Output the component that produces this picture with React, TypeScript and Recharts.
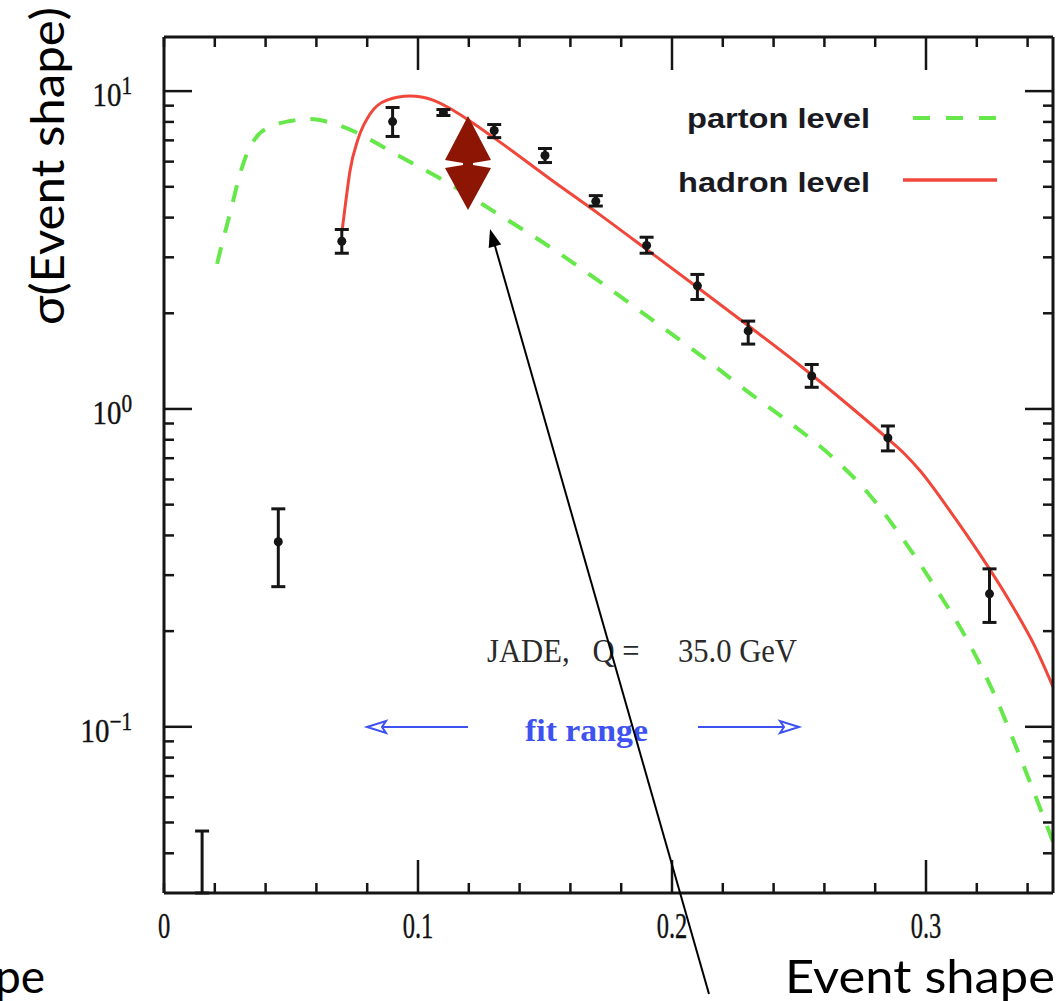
import React from 'react';
import { ComposedChart, Line, Scatter, XAxis, YAxis, ErrorBar } from 'recharts';

const W = 1061;
const H = 1001;
// plot area: x 164..1053, y 37..893 (each axis takes 1px)
const MARGIN = { top: 36, right: 7, bottom: 107, left: 163 };

const X_DOMAIN: [number, number] = [0, 0.35];
const Y_DOMAIN: [number, number] = [0.03, 14.8];

// axis ticks
const xTicks = [0, 0.02, 0.04, 0.06, 0.08, 0.1, 0.12, 0.14, 0.16, 0.18, 0.2, 0.22, 0.24, 0.26, 0.28, 0.3, 0.32, 0.34];
const xMajorTicks = [0.1, 0.2, 0.3];
const xLabelTicks = [0, 0.1, 0.2, 0.3];
const xLabels = ['0', '0.1', '0.2', '0.3'];

const yTicks = [
  0.04, 0.05, 0.06, 0.07, 0.08, 0.09,
  0.1, 0.2, 0.3, 0.4, 0.5, 0.6, 0.7, 0.8, 0.9,
  1, 2, 3, 4, 5, 6, 7, 8, 9,
  10,
];
const yMajorTicks = [0.1, 1, 10];
const yExpLabels = ['\u22121', '0', '1'];

// data (JADE, Q = 35 GeV)
const dataX = [0.015, 0.045, 0.07, 0.09, 0.11, 0.13, 0.15, 0.17, 0.19, 0.21, 0.23, 0.255, 0.285, 0.325];
const dataY = [0.03, 0.382, 3.37, 8.02, 8.56, 7.52, 6.27, 4.5, 3.27, 2.44, 1.76, 1.27, 0.811, 0.262];
const dataLow = [0.03, 0.276, 3.09, 7.2, 8.38, 7.14, 5.96, 4.35, 3.09, 2.21, 1.6, 1.17, 0.738, 0.213];
const dataHigh = [0.047, 0.485, 3.67, 8.88, 8.75, 7.85, 6.6, 4.69, 3.47, 2.65, 1.89, 1.38, 0.884, 0.314];

// hadron level curve
const hadronX = [0.0701, 0.0717, 0.0732, 0.0764, 0.0811, 0.0878, 0.0969, 0.1059, 0.1138, 0.1217, 0.1323, 0.152, 0.1717, 0.1913, 0.211, 0.2307, 0.2504, 0.27, 0.285, 0.2917, 0.2976, 0.3094, 0.3213, 0.3331, 0.343, 0.35];
const hadronY = [3.63, 4.58, 5.6, 7.07, 8.47, 9.37, 9.65, 9.37, 8.71, 7.93, 6.91, 5.29, 4.08, 3.12, 2.38, 1.81, 1.37, 1.02, 0.805, 0.72, 0.64, 0.478, 0.348, 0.247, 0.178, 0.1336];

// parton level curve
const partonX = [0.0209, 0.0228, 0.0248, 0.0272, 0.0299, 0.0331, 0.037, 0.0425, 0.0496, 0.0575, 0.0673, 0.0772, 0.087, 0.0969, 0.1126, 0.1295, 0.152, 0.1717, 0.1913, 0.211, 0.2307, 0.2465, 0.2622, 0.2768, 0.2917, 0.3055, 0.3173, 0.3272, 0.337, 0.35];
const partonY = [2.86, 3.3, 3.79, 4.51, 5.48, 6.48, 7.27, 7.76, 8.05, 8.17, 7.88, 7.32, 6.62, 5.98, 5.1, 4.2, 3.23, 2.51, 1.93, 1.48, 1.12, 0.904, 0.717, 0.548, 0.382, 0.26, 0.181, 0.125, 0.0805, 0.0435];

const RED = '#f0473a';
const GREEN = '#66e84a';
const BLUE = '#3e52f2';
const INK = '#151515';
const SERIF = '"Liberation Serif", "DejaVu Serif", serif';
const SANS = '"Liberation Sans", Arial, sans-serif';
const GILL = 'Lato, "Open Sans", sans-serif';

const points = dataX.map((x, i) => ({
  x,
  y: dataY[i],
  err: [dataY[i] - dataLow[i], dataHigh[i] - dataY[i]],
}));
const hadron = hadronX.map((x, i) => ({ x, y: hadronY[i] }));
const parton = partonX.map((x, i) => ({ x, y: partonY[i] }));

const MAJOR_LEN = 28;
const MINOR_LEN = 10;

const BottomTick = (props: any) => {
  const { x, y, payload } = props;
  const v = payload.value;
  const major = xMajorTicks.includes(v);
  const li = xLabelTicks.indexOf(v);
  return (
    <g>
      <line x1={x} y1={y} x2={x} y2={y - (major ? 33 : MINOR_LEN)} stroke={INK} strokeWidth={2.5} />
      {li >= 0 && (
        <text
          x={0}
          y={0}
          transform={`translate(${x},${y + 45}) scale(0.7,1)`}
          textAnchor="middle"
          fontFamily={SERIF}
          fontSize={35}
          fill="#111"
          stroke="#111"
          strokeWidth={0.4}
        >
          {xLabels[li]}
        </text>
      )}
    </g>
  );
};

const TopTick = (props: any) => {
  const { x, y, payload } = props;
  const major = xMajorTicks.includes(payload.value);
  return <line x1={x} y1={y} x2={x} y2={y + (major ? 33 : MINOR_LEN)} stroke={INK} strokeWidth={2.5} />;
};

const LeftTick = (props: any) => {
  const { x, y, payload } = props;
  const idx = yMajorTicks.indexOf(payload.value);
  return (
    <g>
      <line x1={x} y1={y} x2={x + (idx >= 0 ? MAJOR_LEN : MINOR_LEN)} y2={y} stroke={INK} strokeWidth={2.5} />
      {idx >= 0 && (
        <text
          x={0}
          y={0}
          transform={`translate(${x - 32},${y + 15}) scale(0.85,1)`}
          textAnchor="end"
          fontFamily={SERIF}
          fontSize={34}
          fill="#111"
          stroke="#111"
          strokeWidth={0.4}
        >
          10
          <tspan dy={-12} fontSize={25}>
            {yExpLabels[idx]}
          </tspan>
        </text>
      )}
    </g>
  );
};

const RightTick = (props: any) => {
  const { x, y, payload } = props;
  const major = yMajorTicks.includes(payload.value);
  return <line x1={x} y1={y} x2={x - (major ? MAJOR_LEN : MINOR_LEN)} y2={y} stroke={INK} strokeWidth={2.5} />;
};

const Dot = (props: any) => {
  const { cx, cy, payload } = props;
  if (!payload || payload.y <= Y_DOMAIN[0]) return <g />;
  return <circle cx={cx} cy={cy} r={4.5} fill={INK} />;
};

const axisLine = { stroke: INK, strokeWidth: 3 };

function arrowHead(tipX: number, tipY: number, fromX: number, fromY: number, len: number, half: number) {
  const dx = fromX - tipX;
  const dy = fromY - tipY;
  const d = Math.hypot(dx, dy);
  const ux = dx / d;
  const uy = dy / d;
  const bx = tipX + ux * len;
  const by = tipY + uy * len;
  return `${tipX},${tipY} ${bx - uy * half},${by + ux * half} ${bx + uy * half},${by - ux * half}`;
}

const Overlay = () => {
  const lineTip = { x: 490, y: 229 };
  const lineEnd = { x: 709, y: 994 };
  return (
    <svg
      width={W}
      height={H}
      style={{ position: 'absolute', left: 0, top: 0, pointerEvents: 'none', overflow: 'hidden' }}
    >
      {/* legend */}
      <text x={870} y={128} textAnchor="end" fontFamily={SANS} fontWeight="bold" fontSize={27} fill="#1a1a22" textLength={183} lengthAdjust="spacingAndGlyphs">
        parton level
      </text>
      <line x1={913} y1={118} x2={997} y2={118} stroke={GREEN} strokeWidth={4} strokeDasharray="17 16" />
      <text x={870} y={192} textAnchor="end" fontFamily={SANS} fontWeight="bold" fontSize={27} fill="#1a1a22" textLength={192} lengthAdjust="spacingAndGlyphs">
        hadron level
      </text>
      <line x1={903} y1={180} x2={997} y2={180} stroke={RED} strokeWidth={3.5} />

      {/* JADE label */}
      <text x={487} y={662} fontFamily={SERIF} fontSize={33} fill="#2a2a2a" xmlSpace="preserve" style={{ whiteSpace: 'pre' }} textLength={310} lengthAdjust="spacingAndGlyphs">
        {'JADE,   Q =     35.0 GeV'}
      </text>

      {/* fit range */}
      <text x={525} y={741} fontFamily={SERIF} fontSize={31} fontWeight="bold" fill={BLUE} textLength={123} lengthAdjust="spacingAndGlyphs">
        fit range
      </text>
      <line x1={383} y1={727} x2={468} y2={727} stroke={BLUE} strokeWidth={2} />
      <polygon points="367,727 386,721 382,727 386,733" fill="none" stroke={BLUE} strokeWidth={2} />
      <line x1={698} y1={727} x2={783} y2={727} stroke={BLUE} strokeWidth={2} />
      <polygon points="799,727 780,721 784,727 780,733" fill="none" stroke={BLUE} strokeWidth={2} />

      {/* dark red double arrow */}
      <polygon
        points="468,116 491,160 473,163 473,165 491,168 468,210 445,168 463,165 463,163 445,160"
        fill="#8c1504"
      />
      <rect x={463} y={140} width={10} height={50} fill="#8c1504" />

      {/* black pointer line */}
      <line x1={lineEnd.x} y1={lineEnd.y} x2={lineTip.x + 3} y2={lineTip.y + 10} stroke="#000" strokeWidth={2} />
      <polygon points={arrowHead(lineTip.x, lineTip.y, lineEnd.x, lineEnd.y, 18, 6.5)} fill="#000" />

      {/* axis titles */}
      <text transform="translate(64,325) rotate(-90)" fontFamily={GILL} fontSize={46} fill="#000" textLength={318} lengthAdjust="spacingAndGlyphs">
        σ(Event shape)
      </text>
      <text x={785} y={993} fontFamily={GILL} fontSize={46} fill="#000" textLength={270} lengthAdjust="spacingAndGlyphs">
        Event shape
      </text>
      <text x={45} y={993} textAnchor="end" fontFamily={GILL} fontSize={46} fill="#000">
        Event shape
      </text>
    </svg>
  );
};

export default function App() {
  return (
    <div style={{ position: 'absolute', left: 0, top: 0, width: W, height: H, background: '#fff' }}>
      <ComposedChart width={W} height={H} margin={MARGIN}>
        <XAxis
          xAxisId="b"
          dataKey="x"
          type="number"
          orientation="bottom"
          domain={X_DOMAIN}
          allowDataOverflow
          ticks={xTicks}
          interval={0}
          height={1}
          tickSize={0}
          tickMargin={0}
          tick={<BottomTick />}
          axisLine={axisLine}
          tickLine={false}
        />
        <XAxis
          xAxisId="t"
          dataKey="x"
          type="number"
          orientation="top"
          domain={X_DOMAIN}
          allowDataOverflow
          ticks={xTicks}
          interval={0}
          height={1}
          tickSize={0}
          tickMargin={0}
          tick={<TopTick />}
          axisLine={axisLine}
          tickLine={false}
        />
        <YAxis
          yAxisId="l"
          dataKey="y"
          type="number"
          scale="log"
          orientation="left"
          domain={Y_DOMAIN}
          allowDataOverflow
          ticks={yTicks}
          interval={0}
          width={1}
          tickSize={0}
          tickMargin={0}
          tick={<LeftTick />}
          axisLine={axisLine}
          tickLine={false}
        />
        <YAxis
          yAxisId="r"
          dataKey="y"
          type="number"
          scale="log"
          orientation="right"
          domain={Y_DOMAIN}
          allowDataOverflow
          ticks={yTicks}
          interval={0}
          width={1}
          tickSize={0}
          tickMargin={0}
          tick={<RightTick />}
          axisLine={axisLine}
          tickLine={false}
        />
        <Line
          xAxisId="b"
          yAxisId="l"
          data={parton}
          dataKey="y"
          type="monotone"
          stroke={GREEN}
          strokeWidth={4}
          strokeDasharray="17 15"
          dot={false}
          activeDot={false}
          isAnimationActive={false}
        />
        <Line
          xAxisId="b"
          yAxisId="l"
          data={hadron}
          dataKey="y"
          type="monotone"
          stroke={RED}
          strokeWidth={3}
          dot={false}
          activeDot={false}
          isAnimationActive={false}
        />
        <Scatter xAxisId="b" yAxisId="l" data={points} dataKey="y" shape={<Dot />} isAnimationActive={false}>
          <ErrorBar dataKey="err" direction="y" width={7} stroke={INK} strokeWidth={3} isAnimationActive={false} />
        </Scatter>
      </ComposedChart>
      <Overlay />
    </div>
  );
}
